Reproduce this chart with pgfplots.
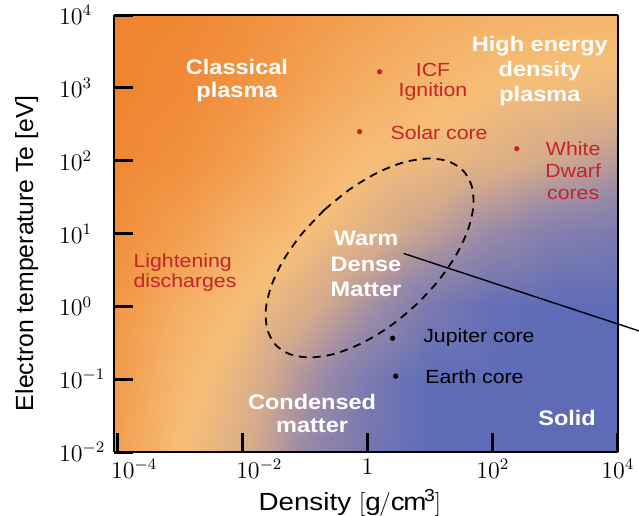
\documentclass[border=0pt]{standalone}
\usepackage{fontspec}
\setmainfont[FakeStretch=1.12]{Liberation Sans}
\newfontfamily\plainsans{Liberation Sans}
\usepackage{pgfplots}
\pgfplotsset{compat=1.18}
\definecolor{wdred}{RGB}{196,36,40}

\pgfplotstableread{
x y c
8.9e-5 1e-2 0.25
1e-3 1e-2 0.50
1e-2 1e-2 0.62
1e-1 1e-2 0.80
1 1e-2 0.92
1e1 1e-2 1.00
1e2 1e-2 1.00
1e3 1e-2 1.00
1e4 1e-2 1.00
8.9e-5 1e-1 0.22
1e-3 1e-1 0.45
1e-2 1e-1 0.58
1e-1 1e-1 0.75
1 1e-1 0.90
1e1 1e-1 1.00
1e2 1e-1 1.00
1e3 1e-1 1.00
1e4 1e-1 1.00
8.9e-5 1 0.18
1e-3 1 0.38
1e-2 1 0.50
1e-1 1 0.62
1 1 0.76
1e1 1 0.90
1e2 1 0.98
1e3 1 1.00
1e4 1 1.00
8.9e-5 1e1 0.10
1e-3 1e1 0.25
1e-2 1e1 0.40
1e-1 1e1 0.50
1 1e1 0.60
1e1 1e1 0.70
1e2 1e1 0.80
1e3 1e1 0.87
1e4 1e1 0.90
8.9e-5 1e2 0.03
1e-3 1e2 0.12
1e-2 1e2 0.25
1e-1 1e2 0.40
1 1e2 0.50
1e1 1e2 0.55
1e2 1e2 0.60
1e3 1e2 0.66
1e4 1e2 0.72
8.9e-5 1e3 0.00
1e-3 1e3 0.05
1e-2 1e3 0.15
1e-1 1e3 0.28
1 1e3 0.38
1e1 1e3 0.45
1e2 1e3 0.50
1e3 1e3 0.52
1e4 1e3 0.55
8.9e-5 1e4 0.00
1e-3 1e4 0.02
1e-2 1e4 0.10
1e-1 1e4 0.20
1 1e4 0.28
1e1 1e4 0.35
1e2 1e4 0.40
1e3 1e4 0.42
1e4 1e4 0.42
}\bgtable

\begin{document}
\begin{tikzpicture}
\begin{axis}[
  name=ax,
  view={0}{90},
  xmode=log, ymode=log,
  width=252pt, height=218.5pt, scale only axis,
  xmin=8.9e-5, xmax=1e4, ymin=1e-2, ymax=1e4,
  clip=false,
  axis on top,
  colormap={wdm}{rgb255(0cm)=(239,132,48); rgb255(2.5cm)=(242,158,78); rgb255(5cm)=(246,190,120); rgb255(6.5cm)=(212,170,140); rgb255(8cm)=(150,136,168); rgb255(10cm)=(94,108,184)},
  point meta min=0, point meta max=1,
  xtick={1e-4,1e-2,1,1e2,1e4},
  xticklabels={\hspace*{17pt}$10^{-4}$,\hspace*{17pt}$10^{-2}$,$1$,$10^{2}$,$10^{4}$},
  ytick={1e-2,1e-1,1,1e1,1e2,1e3,1e4},
  ztick=\empty,
  xminorticks=false, yminorticks=false,
  tick align=inside,
  xtick pos=left, ytick pos=left,
  major tick length=9.5pt,
  tick style={black, line width=1.5pt},
  axis line style={line width=1pt},
  tick label style={font=\fontsize{12}{14}\selectfont},
  yticklabel style={anchor=west, xshift=-31pt},
  xlabel={Density $[\mathrm{g/cm^3}]$},
  ylabel={\plainsans Electron temperature Te [eV]},
  label style={font=\fontsize{12.4}{14}\selectfont},
  xlabel style={at={(rel axis cs:0.468,-0.117,0)}, anchor=center},
  ylabel style={at={(rel axis cs:-0.173,0.455,0)}, anchor=center},
]
\addplot3[surf, shader=interp, mesh/cols=9, point meta=\thisrow{c}] table[x=x, y=y, z=c] {\bgtable};

% Warm dense matter region (dashed ellipse)
\addplot3[black, line width=0.9pt, dash pattern=on 4pt off 3pt, smooth] coordinates {
(0.205,21.2,0) (0.0889,9.86,0) (0.0456,4.36,0) (0.0291,1.93,0) (0.0237,0.910,0)
(0.0251,0.479,0) (0.0342,0.294,0) (0.0592,0.218,0) (0.124,0.199,0) (0.303,0.224,0)
(0.807,0.312,0) (2.19,0.520,0) (5.65,1.01,0) (13.0,2.16,0) (25.4,4.90,0)
(39.8,11.0,0) (48.9,23.4,0) (46.2,44.5,0) (33.9,72.4,0) (19.6,97.9,0)
(9.31,107,0) (3.82,95.1,0) (1.44,68.4,0) (0.530,40.9,0) (0.205,21.2,0)
};

% pointer line
\addplot3[black, line width=0.7pt] coordinates {(3.77,5.32,0) (22500,0.455,0)};

% red points
\addplot3[only marks, mark=*, mark size=1.1pt, wdred] coordinates {(1.56,1660,0) (0.745,250,0) (242,146,0)};
% black points
\addplot3[only marks, mark=*, mark size=1.1pt, black] coordinates {(2.51,0.365,0) (2.81,0.110,0)};

% white region labels
\node[font=\bfseries\fontsize{10.5}{11.5}\selectfont, text=white, align=center] at (rel axis cs:0.244,0.851,0) {Classical\\plasma};
\node[font=\bfseries\fontsize{10.5}{12.5}\selectfont, text=white, align=center] at (rel axis cs:0.845,0.872,0) {High energy\\density\\plasma};
\node[font=\bfseries\fontsize{10.5}{12.75}\selectfont, text=white, align=center] at (rel axis cs:0.500,0.430,0) {Warm\\Dense\\Matter};
\node[font=\bfseries\fontsize{10.5}{11.5}\selectfont, text=white, align=center] at (rel axis cs:0.393,0.089,0) {Condensed\\matter};
\node[font=\bfseries\fontsize{10.5}{11.5}\selectfont, text=white, align=center] at (rel axis cs:0.899,0.078,0) {Solid};

% red labels
\node[font=\fontsize{9.5}{10}\selectfont, text=wdred, align=center] at (rel axis cs:0.633,0.847,0) {ICF\\Ignition};
\node[font=\fontsize{9.5}{10}\selectfont, text=wdred, align=center] at (rel axis cs:0.645,0.730,0) {Solar core};
\node[font=\fontsize{9.5}{11}\selectfont, text=wdred, align=center] at (rel axis cs:0.911,0.643,0) {White\\Dwarf\\cores};
\node[font=\fontsize{9.5}{10}\selectfont, text=wdred, align=left, anchor=west, inner sep=0pt] at (rel axis cs:0.038,0.410,0) {Lightening\\discharges};

% black labels
\node[font=\fontsize{9.5}{10}\selectfont, text=black, anchor=west, inner sep=0pt] at (rel axis cs:0.613,0.261,0) {Jupiter core};
\node[font=\fontsize{9.5}{10}\selectfont, text=black, anchor=west, inner sep=0pt] at (rel axis cs:0.617,0.172,0) {Earth core};
\end{axis}
\pgfresetboundingbox
\path ([shift={(-57pt,-31.5pt)}]ax.south west) rectangle ([shift={(10.5pt,7.5pt)}]ax.north east);
\end{tikzpicture}
\end{document}
